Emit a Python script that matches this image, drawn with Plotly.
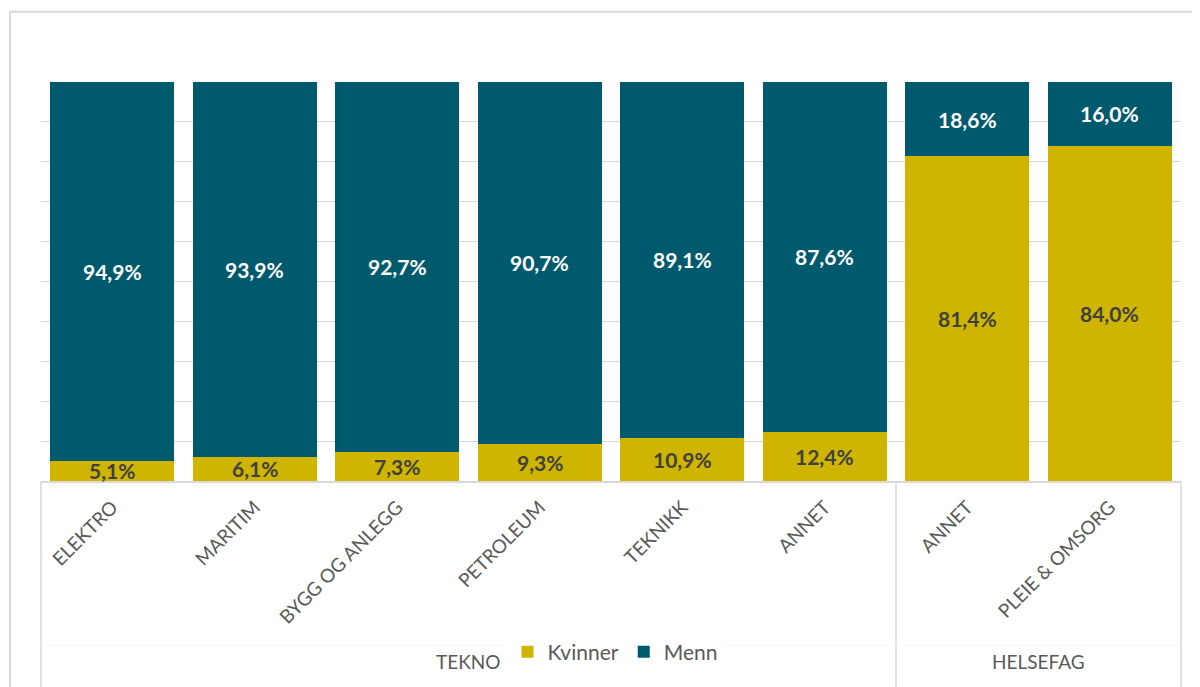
import plotly.graph_objects as go

categories = ["ELEKTRO", "MARITIM", "BYGG OG ANLEGG", "PETROLEUM", "TEKNIKK", "ANNET", "ANNET", "PLEIE & OMSORG"]
groups = ["TEKNO"] * 6 + ["HELSEFAG"] * 2
kvinner = [5.1, 6.1, 7.3, 9.3, 10.9, 12.4, 81.4, 84.0]
menn = [94.9, 93.9, 92.7, 90.7, 89.1, 87.6, 18.6, 16.0]

GOLD = "#CFB500"
TEAL = "#005A6E"
GRID = "#D9D9D9"
FONT = "Lato, 'Open Sans', sans-serif"

xs = list(range(len(categories)))

fig = go.Figure()
fig.add_trace(go.Bar(x=xs, y=kvinner, name="Kvinner", marker=dict(color=GOLD, line=dict(width=0)), width=0.87))
fig.add_trace(go.Bar(x=xs, y=menn, name="Menn", marker=dict(color=TEAL, line=dict(width=0)), width=0.87))


def pct(v):
    return f"{v:.1f}%".replace(".", ",")


annotations = []
for i, (k, m) in enumerate(zip(kvinner, menn)):
    annotations.append(dict(x=i, y=k / 2, xref="x", yref="y", text=f"<b>{pct(k)}</b>", showarrow=False,
                            font=dict(size=21, color="#404040", family=FONT)))
    annotations.append(dict(x=i, y=k + m / 2, xref="x", yref="y", text=f"<b>{pct(m)}</b>", showarrow=False,
                            font=dict(size=21, color="white", family=FONT)))

# group labels under the category labels
n = len(categories)
group_names = []
for g in groups:
    if g not in group_names:
        group_names.append(g)
shapes = []
bounds = [0]
for g in group_names:
    idx = [i for i, gg in enumerate(groups) if gg == g]
    mid = (idx[0] + idx[-1]) / 2
    annotations.append(dict(x=mid, y=-0.486, xref="x", yref="paper", text=g, showarrow=False,
                            font=dict(size=19, color="#595959", family=FONT)))
    bounds.append((idx[-1] + 1) / n)

for b in bounds:
    shapes.append(dict(type="line", xref="paper", yref="paper", x0=b, x1=b, y0=0, y1=-0.55,
                       line=dict(color=GRID, width=1.5)))
shapes.append(dict(type="line", xref="paper", yref="paper", x0=0, x1=1, y0=-0.412, y1=-0.412,
                   line=dict(color="#F8F8F8", width=1)))
# outer chart border
shapes.append(dict(type="rect", xref="paper", yref="paper", x0=-0.0272, x1=1.2, y0=-0.6, y1=1.176,
                   line=dict(color=GRID, width=2), fillcolor="rgba(0,0,0,0)", layer="below"))

fig.update_layout(
    width=1192,
    height=679,
    barmode="stack",
    plot_bgcolor="white",
    paper_bgcolor="white",
    margin=dict(l=33, r=19, t=74, b=206),
    font=dict(family=FONT, color="#595959"),
    xaxis=dict(
        tickvals=xs,
        ticktext=categories,
        tickangle=-45,
        tickfont=dict(size=19, color="#595959", family=FONT),
        range=[-0.5, n - 0.5],
        showline=True,
        linecolor=GRID,
        linewidth=1.5,
        showgrid=False,
        ticks="",
        ticklabelstandoff=6,
    ),
    yaxis=dict(
        range=[0, 100],
        dtick=10,
        showticklabels=False,
        gridcolor=GRID,
        gridwidth=1,
        zeroline=False,
        showline=False,
    ),
    legend=dict(
        orientation="h",
        x=0.5035,
        xanchor="center",
        y=-0.429,
        yanchor="middle",
        font=dict(size=21, color="#595959", family=FONT),
        traceorder="normal",
        itemwidth=30,
    ),
    annotations=annotations,
    shapes=shapes,
    showlegend=True,
)

fig.write_html("out.html")
